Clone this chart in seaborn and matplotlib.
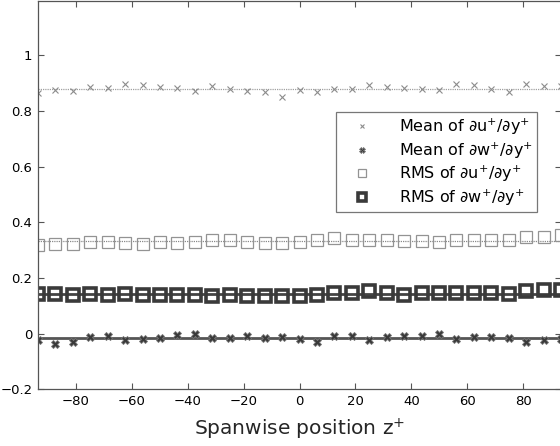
import numpy as np
import pandas as pd
import matplotlib
matplotlib.use("Agg")
import matplotlib.pyplot as plt
import seaborn as sns

sns.set_style("ticks")
plt.rcParams['font.family'] = ['DejaVu Sans']

z_plus = np.linspace(-93.6, 93.6, 31)

mean_dudy = [0.864, 0.874, 0.870, 0.884, 0.881, 0.898, 0.892, 0.886, 0.881, 0.871,
             0.889, 0.879, 0.870, 0.866, 0.849, 0.874, 0.868, 0.879, 0.877, 0.893,
             0.886, 0.881, 0.879, 0.876, 0.898, 0.894, 0.879, 0.869, 0.898, 0.891, 0.890]
mean_dwdy = [-0.022, -0.037, -0.031, -0.013, -0.007, -0.024, -0.018, -0.014, -0.005, -0.001,
             -0.014, -0.014, -0.007, -0.014, -0.010, -0.019, -0.029, -0.007, -0.007, -0.022,
             -0.013, -0.008, -0.007, -0.001, -0.018, -0.013, -0.013, -0.016, -0.029, -0.024, -0.020]
rms_dudy = [0.320, 0.323, 0.323, 0.330, 0.330, 0.326, 0.323, 0.330, 0.327, 0.329,
            0.338, 0.335, 0.328, 0.326, 0.326, 0.328, 0.338, 0.344, 0.338, 0.338,
            0.335, 0.333, 0.333, 0.328, 0.335, 0.335, 0.338, 0.335, 0.349, 0.347, 0.355]
rms_dwdy = [0.144, 0.144, 0.139, 0.144, 0.140, 0.144, 0.140, 0.140, 0.140, 0.140,
            0.134, 0.139, 0.134, 0.134, 0.136, 0.137, 0.140, 0.148, 0.148, 0.153,
            0.145, 0.140, 0.148, 0.145, 0.145, 0.145, 0.145, 0.144, 0.152, 0.158, 0.158]

labels = ["Mean of ∂u$^{+}$/∂y$^{+}$", "Mean of ∂w$^{+}$/∂y$^{+}$",
          "RMS of ∂u$^{+}$/∂y$^{+}$", "RMS of ∂w$^{+}$/∂y$^{+}$"]
xticks = [-80, -60, -40, -20, 0, 20, 40, 60, 80]
xtick_labels = ["−80", "−60", "−40", "−20", "0", "20", "40", "60", "80"]
yticks = [-0.2, 0, 0.2, 0.4, 0.6, 0.8, 1]
ytick_labels = ["−0.2", "0", "0.2", "0.4", "0.6", "0.8", "1"]

df = pd.DataFrame({"z": z_plus, "mdu": mean_dudy, "mdw": mean_dwdy,
                   "rdu": rms_dudy, "rdw": rms_dwdy})

fig = plt.figure(figsize=(5.6, 4.46), dpi=100)
ax = fig.add_axes([0.0679, 0.1267, 0.9339, 0.8715])

# reference lines (mean of each series)
ax.axhline(np.mean(mean_dudy), color="#a0a0a0", lw=0.9, ls=(0, (1, 0.8)), zorder=1)
ax.axhline(np.mean(rms_dudy), color="#8a8a8a", lw=0.9, ls=(0, (1, 0.8)), zorder=1)
ax.axhline(np.mean(mean_dwdy), color="#555555", lw=2.0, ls="-", zorder=1)
ax.axhline(np.mean(rms_dwdy), color="#444444", lw=2.0, ls="-", zorder=1)

sns.lineplot(data=df, x="z", y="mdu", ax=ax, linestyle="", marker="x",
             markersize=4.5, markeredgewidth=0.8, color="#8c8c8c",
             markeredgecolor="#8c8c8c", label=labels[0])
sns.lineplot(data=df, x="z", y="mdw", ax=ax, linestyle="", marker="X",
             markersize=6, markeredgewidth=0.6, color="#3a3a3a",
             markeredgecolor="#777777", label=labels[1])
sns.lineplot(data=df, x="z", y="rdu", ax=ax, linestyle="", marker="s",
             markersize=8, markerfacecolor="none", markeredgewidth=0.9,
             markeredgecolor="#939393", color="#939393", label=labels[2])
sns.lineplot(data=df, x="z", y="rdw", ax=ax, linestyle="", marker="s",
             markersize=8.5, markerfacecolor="none", markeredgewidth=2.6,
             markeredgecolor="#3a3a3a", color="#3a3a3a", label=labels[3])

ax.set_xlim(-93.6, 93.6)
ax.set_ylim(-0.2, 1.195)
ax.set_xticks(xticks)
ax.set_xticklabels(xtick_labels)
ax.set_yticks(yticks)
ax.set_yticklabels(ytick_labels)
ax.tick_params(direction="in", length=4, width=0.8, labelsize=9.5, pad=4,
               top=True, right=True, colors="#555555", labelcolor="black")
for s in ax.spines.values():
    s.set_visible(True)
    s.set_color("#555555")
    s.set_linewidth(0.9)

ax.set_xlabel("Spanwise position z$^{+}$", fontsize=14.5, labelpad=6)
ax.set_ylabel("")

leg = ax.legend(loc="upper right", bbox_to_anchor=(0.955, 0.714), borderaxespad=0,
                fancybox=False, framealpha=1, edgecolor="#777777", fontsize=11.5,
                handlelength=2.6, handletextpad=1.0, labelspacing=0.2,
                borderpad=0.3, markerscale=0.7)
leg.get_frame().set_linewidth(0.9)
for t in leg.get_texts():
    t.set_color("black")

fig.savefig("out.png", dpi=100)
